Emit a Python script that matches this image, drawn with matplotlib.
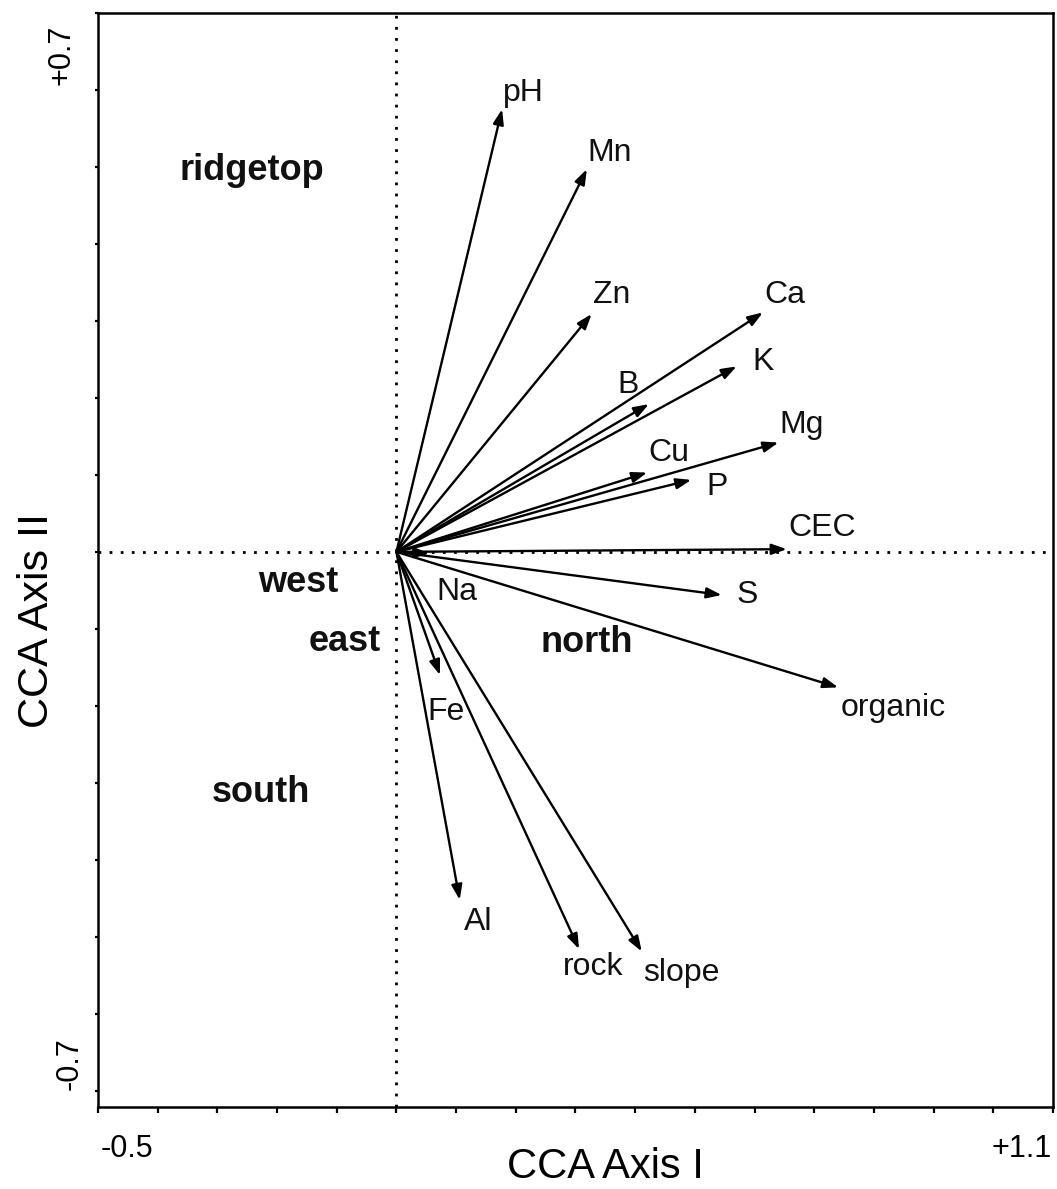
import numpy as np
import matplotlib.pyplot as plt

plt.rcParams['font.family'] = ['Liberation Sans', 'DejaVu Sans']

# biplot vectors for the soil / site variables (CCA axis I, CCA axis II)
variables = ['pH', 'Mn', 'Zn', 'Ca', 'K', 'B', 'Mg', 'Cu', 'P', 'CEC',
             'S', 'organic', 'Na', 'Fe', 'Al', 'rock', 'slope']
axis1 = [0.177, 0.319, 0.327, 0.614, 0.570, 0.423, 0.640, 0.420, 0.494, 0.654,
         0.545, 0.740, 0.055, 0.073, 0.106, 0.306, 0.411]
axis2 = [0.575, 0.497, 0.309, 0.311, 0.241, 0.192, 0.142, 0.103, 0.0935, 0.0035,
         -0.056, -0.176, -0.002, -0.160, -0.452, -0.516, -0.519]

# where each variable name sits
label_xy = {
    'pH': (0.212, 0.596), 'Mn': (0.358, 0.518), 'Zn': (0.361, 0.334),
    'Ca': (0.651, 0.334), 'K': (0.614, 0.247), 'B': (0.388, 0.217),
    'Mg': (0.679, 0.165), 'Cu': (0.456, 0.129), 'P': (0.537, 0.084),
    'CEC': (0.713, 0.031), 'S': (0.587, -0.056), 'organic': (0.832, -0.203),
    'Na': (0.101, -0.052), 'Fe': (0.083, -0.208), 'Al': (0.137, -0.481),
    'rock': (0.329, -0.539), 'slope': (0.478, -0.547),
}

# site groups (centroid labels)
sites = ['ridgetop', 'west', 'east', 'north', 'south']
site_x = [-0.242, -0.165, -0.086, 0.319, -0.227]
site_y = [0.496, -0.040, -0.116, -0.118, -0.313]

fig = plt.figure(figsize=(10.57, 11.89), dpi=100)
ax = fig.add_axes([0.0927, 0.069, 0.9035, 0.9201])
ax.set_xlim(-0.5, 1.1)
ax.set_ylim(-0.721, 0.7)

ax.axvline(0, color='black', lw=2.0, ls=(0, (1, 3)), zorder=1)
ax.axhline(0, color='black', lw=2.0, ls=(0, (1, 3)), zorder=1)

for name, x, y in zip(variables, axis1, axis2):
    ax.annotate('', xy=(x, y), xytext=(0, 0),
                arrowprops=dict(arrowstyle='-|>,head_length=0.45,head_width=0.16',
                                color='black', lw=1.7, shrinkA=0, shrinkB=0,
                                mutation_scale=20),
                zorder=3)
    lx, ly = label_xy[name]
    ax.text(lx, ly, name, fontsize=23, ha='center', va='center', color='#111111')

for name, x, y in zip(sites, site_x, site_y):
    ax.text(x, y, name, fontsize=26, fontweight='bold', ha='center', va='center',
            color='#111111')

ax.set_xticks(np.arange(-0.5, 1.101, 0.1))
ax.set_yticks(np.arange(-0.7, 0.701, 0.1))
ax.tick_params(axis='x', direction='out', length=4, width=1.6,
               labelbottom=False)
ax.tick_params(axis='y', direction='out', length=2.5, width=1.6,
               labelleft=False)
for sp in ax.spines.values():
    sp.set_linewidth(1.8)

# end labels only
ax.text(0.003, -0.0457, '-0.5', transform=ax.transAxes, fontsize=22,
        ha='left', va='baseline')
ax.text(0.999, -0.0457, '+1.1', transform=ax.transAxes, fontsize=22,
        ha='right', va='baseline')
ax.text(-0.038, 0.962, '+0.7', transform=ax.transAxes, fontsize=22,
        ha='center', va='center', rotation=90)
ax.text(-0.0293, 0.040, '-0.7', transform=ax.transAxes, fontsize=22,
        ha='center', va='center', rotation=90)

ax.text(0.531, -0.065, 'CCA Axis I', transform=ax.transAxes, fontsize=30,
        ha='center', va='baseline')
ax.text(-0.064, 0.445, 'CCA Axis II', transform=ax.transAxes, fontsize=31,
        ha='center', va='center', rotation=90)

fig.savefig('out.png', dpi=100, facecolor='white')
